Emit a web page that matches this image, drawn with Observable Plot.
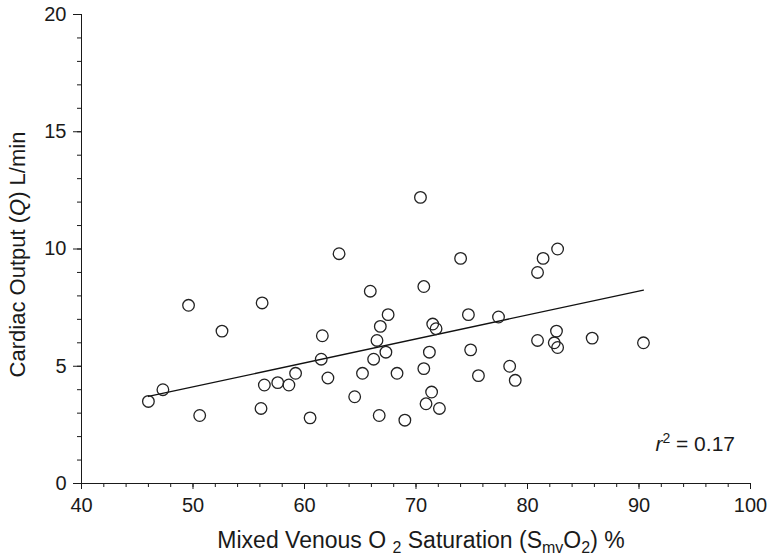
<!DOCTYPE html>
<html><head><meta charset="utf-8">
<script src="https://cdn.jsdelivr.net/npm/d3@7"></script>
<script src="https://cdn.jsdelivr.net/npm/@observablehq/plot@0.6"></script>
<style>body{margin:0;background:#fff} #chart svg{display:block}</style>
</head><body><div id="chart"></div>
<script>
// Mixed venous O2 saturation (%)
const saturation = [
  49.6, 56.2, 52.6, 61.6, 70.4, 63.1, 74.0, 65.9, 70.7, 67.5,
  66.8, 74.7, 77.4, 71.5, 71.8, 66.5, 82.7, 81.4, 80.9, 82.6,
  80.9, 82.4, 82.7, 85.8, 90.4, 78.4, 78.9, 46.0, 47.3, 50.6,
  56.4, 57.6, 58.6, 59.2, 56.1, 60.5, 61.5, 62.1, 64.5, 65.2,
  66.2, 67.3, 66.7, 68.3, 69.0, 70.7, 71.2, 71.4, 70.9, 72.1,
  74.9, 75.6
];
// Cardiac output (L/min)
const cardiacOutput = [
  7.6, 7.7, 6.5, 6.3, 12.2, 9.8, 9.6, 8.2, 8.4, 7.2,
  6.7, 7.2, 7.1, 6.8, 6.6, 6.1, 10.0, 9.6, 9.0, 6.5,
  6.1, 6.0, 5.8, 6.2, 6.0, 5.0, 4.4, 3.5, 4.0, 2.9,
  4.2, 4.3, 4.2, 4.7, 3.2, 2.8, 5.3, 4.5, 3.7, 4.7,
  5.3, 5.6, 2.9, 4.7, 2.7, 4.9, 5.6, 3.9, 3.4, 3.2,
  5.7, 4.6
];
// Fitted line as printed in the figure
const fitSlope = 0.1022;
const fitIntercept = -0.99;
const rSquared = "0.17";

const xTicks = [40, 50, 60, 70, 80, 90, 100];
const yTicks = [0, 5, 10, 15, 20];
const xMinorTicks = d3.range(40, 101, 2);
const yMinorTicks = d3.range(0, 21, 1);

const data = saturation.map((s, i) => ({x: s, y: cardiacOutput[i]}));
const fit = d3.extent(saturation).map(x => ({x, y: fitIntercept + fitSlope * x}));
const font = "'Liberation Sans', Arial, Helvetica, sans-serif";

const plot = Plot.plot({
  width: 769, height: 556,
  marginLeft: 81, marginRight: 19, marginTop: 14, marginBottom: 73,
  style: {fontFamily: font, fontSize: "20px", color: "#1a1a1a", background: "#fff"},
  x: {domain: [40, 100]},
  y: {domain: [0, 20]},
  marks: [
    Plot.axisX({ticks: xMinorTicks, tickSize: 4, tickFormat: () => "", label: null}),
    Plot.axisX({ticks: xTicks, tickSize: 6, tickPadding: 8, label: null}),
    Plot.axisY({ticks: yMinorTicks, tickSize: 4, tickFormat: () => "", label: null}),
    Plot.axisY({ticks: yTicks, tickSize: 8, tickPadding: 7, label: null}),
    Plot.ruleY([0], {stroke: "#1a1a1a"}),
    Plot.ruleX([40], {stroke: "#1a1a1a"}),
    Plot.line(fit, {x: "x", y: "y", stroke: "#111", strokeWidth: 1.3}),
    Plot.dot(data, {x: "x", y: "y", r: 5.8, stroke: "#222", strokeWidth: 1.3, fill: "none"})
  ]
});
document.getElementById("chart").appendChild(plot);

const svg = d3.select(plot);
const sx = plot.scale("x"), sy = plot.scale("y");

// Y axis title
const yt = svg.append("text")
  .attr("transform", `translate(25,${(sy.apply(0) + sy.apply(20)) / 2 + 6}) rotate(-90)`)
  .attr("text-anchor", "middle")
  .attr("font-family", font).attr("font-size", 22).attr("fill", "#1a1a1a");
yt.append("tspan").text("Cardiac Output (");
yt.append("tspan").attr("font-style", "italic").text("Q");
yt.append("tspan").text(") L/min");

// X axis title
const xt = svg.append("text")
  .attr("x", 421).attr("y", 548)
  .attr("text-anchor", "middle")
  .attr("font-family", font).attr("font-size", 23).attr("fill", "#1a1a1a");
xt.append("tspan").text("Mixed Venous O ");
xt.append("tspan").attr("dy", 5).attr("font-size", 16).text("2");
xt.append("tspan").attr("dy", -5).text(" Saturation (S");
xt.append("tspan").attr("dy", 5).attr("font-size", 16).text("mv");
xt.append("tspan").attr("dy", -5).text("O");
xt.append("tspan").attr("dy", 5).attr("font-size", 16).text("2");
xt.append("tspan").attr("dy", -5).text(") %");

// r² annotation
const rt = svg.append("text")
  .attr("x", 735).attr("y", 451)
  .attr("text-anchor", "end")
  .attr("font-family", font).attr("font-size", 21).attr("fill", "#1a1a1a");
rt.append("tspan").attr("font-style", "italic").text("r");
rt.append("tspan").attr("dy", -8).attr("font-size", 14).text("2");
rt.append("tspan").attr("dy", 8).text(" = " + rSquared);
</script>
</body></html>
